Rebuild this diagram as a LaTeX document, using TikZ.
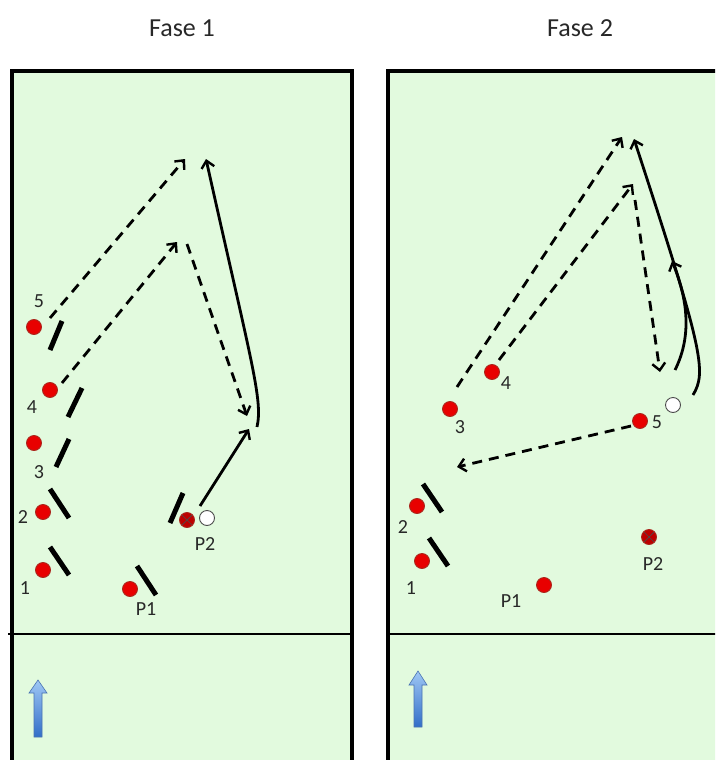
\documentclass[tikz,border=0pt]{standalone}
\usepackage{fontspec}
\setmainfont{Carlito}
\usetikzlibrary{arrows.meta}
\definecolor{field}{RGB}{226,250,222}
\definecolor{dotred}{RGB}{232,0,0}
\definecolor{dotedge}{RGB}{170,40,30}
\definecolor{xred}{RGB}{190,0,0}
\definecolor{arrtop}{RGB}{160,200,245}
\definecolor{arrbot}{RGB}{50,110,200}
\definecolor{titlegray}{RGB}{40,40,40}
\begin{document}
\begin{tikzpicture}[x=1pt,y=-1pt,
  player/.style={circle,fill=dotred,draw=dotedge,line width=0.9pt,minimum size=15pt,inner sep=0pt},
  xplayer/.style={player,fill=xred,path picture={
      \draw[black!70,line width=0.7pt] (path picture bounding box.north west) -- (path picture bounding box.south east)
        (path picture bounding box.north east) -- (path picture bounding box.south west);}},
  ball/.style={circle,fill=white,draw=black!70,line width=0.9pt,minimum size=15pt,inner sep=0pt},
  lbl/.style={font=\fontsize{20}{20}\selectfont,text=titlegray,inner sep=0pt},
  ttl/.style={font=\fontsize{26}{26}\selectfont,text=titlegray,inner sep=0pt},
  barline/.style={line width=5pt,black},
  pass/.style={line width=2.8pt,dash pattern=on 10pt off 7pt,-{Straight Barb[length=7pt,width=13pt,line width=2.4pt]}},
  run/.style={line width=2.8pt,-{Straight Barb[length=7pt,width=13pt,line width=2.4pt]}},
  border/.style={line width=3.5pt,black},
  bluearrow/.style={top color=arrtop,bottom color=arrbot,draw=arrbot!70!gray,line width=0.6pt}
]
\useasboundingbox (0,0) rectangle (715,760);
\clip (0,0) rectangle (715,760);

% titles
\node[ttl] (t1) at (182,28) {Fase 1};
\node[ttl] (t2) at (580,28) {Fase 2};

% panel 1
\fill[field] (12,71) rectangle (352,770);
\draw[border] (12,770) -- (12,71) -- (352,71) -- (352,770);
\draw[line width=2.8pt] (8,634) -- (352,634);
\draw[bluearrow] (34,737) -- (34,693) -- (29,693) -- (38,680) -- (47,693) -- (42,693) -- (42,737) -- cycle;

% panel 2
\fill[field] (388,71) rectangle (720,770);
\draw[border,line width=4pt] (388,770) -- (388,71) -- (720,71);
\draw[line width=2.8pt] (388,634) -- (720,634);
\draw[bluearrow] (414,727) -- (414,685) -- (409,685) -- (418,671) -- (427,685) -- (422,685) -- (422,727) -- cycle;

% ---------- Fase 1 ----------
\draw[barline] (62,321) -- (50,350);
\draw[barline] (82,388) -- (68,417);
\draw[barline] (69,439) -- (56,467);
\draw[barline] (50,489) -- (69,518);
\draw[barline] (50,547) -- (69,575);
\draw[barline] (137,566) -- (156,595);
\draw[barline] (183,493) -- (170,523);

\node[player] (a5) at (34,327) {};
\node[player] (a4) at (50,390) {};
\node[player] (a3) at (34,443) {};
\node[player] (a2) at (43,512) {};
\node[player] (a1) at (43,570) {};
\node[player] (aP1) at (130,589) {};
\node[xplayer] (aP2) at (187,520) {};
\node[ball] (ab) at (207,518) {};

\node[lbl] (la5) at (39,301) {5};
\node[lbl] (la4) at (32,407) {4};
\node[lbl] (la3) at (39,472) {3};
\node[lbl] (la2) at (23,517) {2};
\node[lbl] (la1) at (25,588) {1};
\node[lbl] (laP1) at (146,609) {P1};
\node[lbl] (laP2) at (205,544) {P2};

\coordinate (a5s) at (50,318);
\coordinate (a5t) at (185,159);
\coordinate (a4s) at (62,383);
\coordinate (a4t) at (177,242);
\coordinate (acs) at (187,244);
\coordinate (act) at (247,416);
\coordinate (ads) at (257,427);
\coordinate (adt) at (206,159);
\coordinate (abs) at (200,506);
\coordinate (abt) at (249,429);

\draw[pass] (a5s) -- (a5t);
\draw[pass] (a4s) -- (a4t);
\draw[pass] (acs) -- (act);
\draw[run] (ads) .. controls (263,400) and (252,365) .. (adt);
\draw[run] (abs) -- (abt);

% ---------- Fase 2 ----------
\draw[barline] (423,484) -- (442,512);
\draw[barline] (429,538) -- (448,566);

\node[player] (b4) at (492,372) {};
\node[player] (b3) at (450,409) {};
\node[player] (b5) at (640,421) {};
\node[ball] (bb) at (673,405) {};
\node[player] (b2) at (417,506) {};
\node[player] (b1) at (422,561) {};
\node[player] (bP1) at (544,585) {};
\node[xplayer] (bP2) at (649,537) {};

\node[lbl] (lb4) at (506,383) {4};
\node[lbl] (lb3) at (460,427) {3};
\node[lbl] (lb5) at (657,422) {5};
\node[lbl] (lb2) at (403,527) {2};
\node[lbl] (lb1) at (411,588) {1};
\node[lbl] (lbP1) at (511,601) {P1};
\node[lbl] (lbP2) at (653,564) {P2};

\coordinate (b3s) at (457,387);
\coordinate (b3t) at (622,137);
\coordinate (b4s) at (499,360);
\coordinate (b4t) at (633,184);
\coordinate (bcs) at (635,200);
\coordinate (bct) at (660,372);
\coordinate (b5s) at (631,426);
\coordinate (b5t) at (457,467);
\coordinate (bds) at (693,395);
\coordinate (bdt) at (634,139);
\coordinate (bes) at (675,370);
\coordinate (bet) at (672,261);

\draw[pass] (b3s) -- (b3t);
\draw[pass] (b4s) -- (b4t);
\draw[pass] (bcs) -- (bct);
\draw[pass] (b5s) -- (b5t);
\draw[run] (bds) .. controls (707,372) and (703,350) .. (bdt);
\draw[run] (bes) .. controls (690,340) and (690,305) .. (bet);
\end{tikzpicture}
\end{document}
